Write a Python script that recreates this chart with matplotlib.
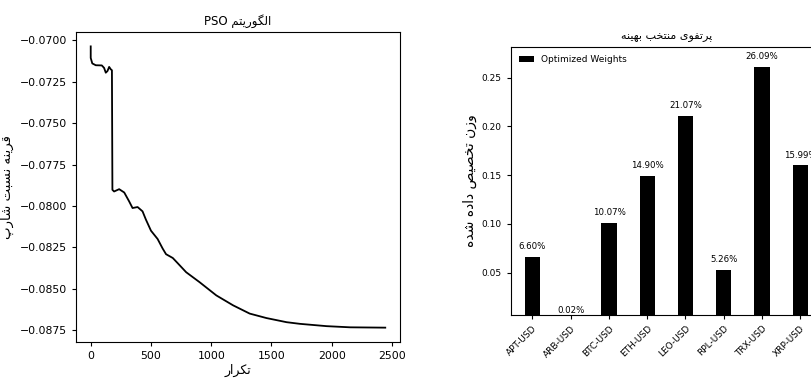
import numpy as np
import matplotlib
matplotlib.use("Agg")
import matplotlib.pyplot as plt

# convergence of the PSO objective (negative Sharpe ratio)
iterations = [0, 0, 13, 42, 92, 111, 125, 139, 153, 167, 176, 180, 194, 236, 278,
              319, 347, 389, 430, 458, 500, 555, 597, 625, 681, 720, 792, 903,
              1042, 1181, 1319, 1458, 1625, 1736, 1958, 2153, 2444]
neg_sharpe = [-0.07036, -0.07106, -0.07139, -0.07150, -0.07151, -0.07166, -0.07195,
              -0.07185, -0.07160, -0.07175, -0.07180, -0.07903, -0.07913, -0.07899,
              -0.07919, -0.07973, -0.08013, -0.08007, -0.08033, -0.08083, -0.08150,
              -0.08200, -0.08258, -0.08292, -0.08315, -0.08345, -0.08401, -0.08461,
              -0.08541, -0.08601, -0.08651, -0.08678, -0.08703, -0.08713, -0.08727,
              -0.08734, -0.08736]

# optimized portfolio weights
tickers = ["APT-USD", "ARB-USD", "BTC-USD", "ETH-USD", "LEO-USD", "RPL-USD", "TRX-USD", "XRP-USD"]
weights = [0.0660, 0.0002, 0.1007, 0.1490, 0.2107, 0.0526, 0.2609, 0.1599]

# contextual forms: isolated, final, initial, medial
FORMS = {
    "ا": ("\uFE8D", "\uFE8E", None, None),
    "ب": ("\uFE8F", "\uFE90", "\uFE91", "\uFE92"),
    "پ": ("\uFB56", "\uFB57", "\uFB58", "\uFB59"),
    "ت": ("\uFE95", "\uFE96", "\uFE97", "\uFE98"),
    "خ": ("\uFEA5", "\uFEA6", "\uFEA7", "\uFEA8"),
    "د": ("\uFEA9", "\uFEAA", None, None),
    "ر": ("\uFEAD", "\uFEAE", None, None),
    "ز": ("\uFEAF", "\uFEB0", None, None),
    "س": ("\uFEB1", "\uFEB2", "\uFEB3", "\uFEB4"),
    "ش": ("\uFEB5", "\uFEB6", "\uFEB7", "\uFEB8"),
    "ص": ("\uFEB9", "\uFEBA", "\uFEBB", "\uFEBC"),
    "ف": ("\uFED1", "\uFED2", "\uFED3", "\uFED4"),
    "ق": ("\uFED5", "\uFED6", "\uFED7", "\uFED8"),
    "ک": ("\uFB8E", "\uFB8F", "\uFB90", "\uFB91"),
    "گ": ("\uFB92", "\uFB93", "\uFB94", "\uFB95"),
    "ل": ("\uFEDD", "\uFEDE", "\uFEDF", "\uFEE0"),
    "م": ("\uFEE1", "\uFEE2", "\uFEE3", "\uFEE4"),
    "ن": ("\uFEE5", "\uFEE6", "\uFEE7", "\uFEE8"),
    "ه": ("\uFEE9", "\uFEEA", "\uFEEB", "\uFEEC"),
    "و": ("\uFEED", "\uFEEE", None, None),
    "ی": ("\uFBFC", "\uFBFD", "\uFBFE", "\uFBFF"),
}


def fa(text):
    """Shape Persian text and lay it out left-to-right for matplotlib."""
    out = []
    for i, ch in enumerate(text):
        if ch not in FORMS:
            out.append(ch)
            continue
        prev = text[i - 1] if i > 0 else ""
        nxt = text[i + 1] if i + 1 < len(text) else ""
        join_prev = prev in FORMS and FORMS[prev][2] is not None
        join_next = nxt in FORMS and FORMS[ch][2] is not None
        if join_prev and join_next:
            out.append(FORMS[ch][3])
        elif join_prev:
            out.append(FORMS[ch][1])
        elif join_next:
            out.append(FORMS[ch][2])
        else:
            out.append(FORMS[ch][0])
    return "".join(reversed(out))


fig = plt.figure(figsize=(8.11, 3.83), dpi=100)

# left: optimizer convergence
ax1 = fig.add_axes([0.0937, 0.1078, 0.3995, 0.8078])
ax1.plot(iterations, neg_sharpe, color="black", linewidth=1.3)
ax1.set_title("PSO " + fa("الگوریتم"), fontsize=8.5, pad=5)
ax1.set_xlabel(fa("تکرار"), fontsize=9, labelpad=2)
ax1.set_ylabel(fa("قرینه نسبت شارپ"), fontsize=9.5)
ax1.yaxis.set_label_coords(-0.19, 0.5)
ax1.tick_params(labelsize=7.8, length=3)

# right: optimal weights
x = np.arange(len(tickers))
ax2 = fig.add_axes([0.6297, 0.1783, 0.3839, 0.6982])
ax2.bar(x, weights, width=0.4, color="black", label="Optimized Weights")
for xi, w in zip(x, weights):
    ax2.text(xi, w + 0.006, f"{w * 100:.2f}%", ha="center", va="bottom", fontsize=6.2)
ax2.set_xticks(x)
ax2.set_xticklabels(tickers, rotation=45, ha="right", rotation_mode="anchor", fontsize=6.5)
ax2.set_ylim(0.007, 0.281)
ax2.set_yticks([0.05, 0.10, 0.15, 0.20, 0.25])
ax2.tick_params(axis="y", labelsize=6.5, length=3)
ax2.tick_params(axis="x", length=3)
ax2.set_title(fa("پرتفوی منتخب بهینه"), fontsize=8, pad=6)
ax2.set_ylabel(fa("وزن تخصیص داده شده"), fontsize=10, labelpad=3)
ax2.legend(loc="upper left", frameon=False, fontsize=6.5, handlelength=1.7)

fig.savefig("out.png", dpi=100)
